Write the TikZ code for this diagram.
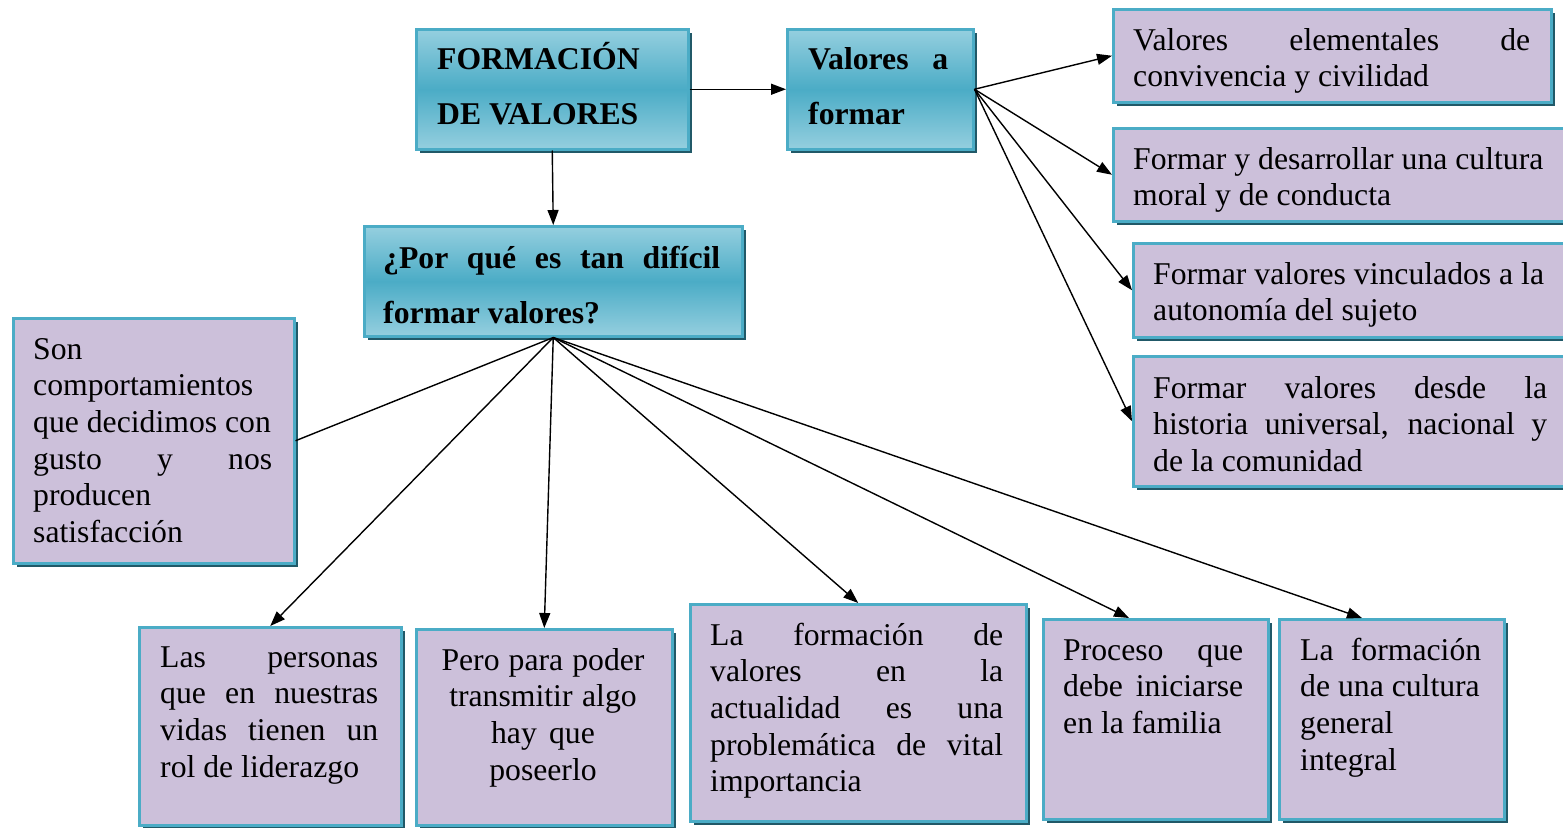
\documentclass[tikz,border=0pt]{standalone}
\usepackage{fontspec}
\setmainfont{Liberation Serif}
\usetikzlibrary{arrows.meta,shadows,calc}
\definecolor{lav}{HTML}{CCC0DA}
\definecolor{tealmid}{HTML}{4BACC6}
\definecolor{tealdk}{HTML}{215968}
\definecolor{teallt}{HTML}{95CFDF}
\newcommand{\jl}[2]{\makebox[#1pt][s]{#2}}
\newcommand{\rs}{\spaceskip=0pt\xspaceskip=0pt\hyphenpenalty=10000\relax}
\begin{document}
\begin{tikzpicture}[x=1pt,y=-1pt,
  boxbase/.style={draw=tealmid, line width=2.5pt, rectangle, inner sep=0pt, anchor=north west,
    drop shadow={shadow xshift=4pt, shadow yshift=-4pt, opacity=1, fill=tealdk}},
  pbox/.style={boxbase, fill=lav},
  bbox/.style={boxbase, top color=teallt, bottom color=teallt, middle color=tealmid},
  txt/.style={inner sep=0pt, anchor=north west, align=left, yshift=-2pt, font=\fontsize{31.7}{36.6}\selectfont},
  btxt/.style={inner sep=0pt, anchor=north west, align=left, yshift=-1.5pt, font=\fontsize{31.7}{55}\selectfont\bfseries},
  arr/.style={-{Triangle[length=15pt,width=11pt]}, line width=1.4pt},
  lin/.style={line width=1.4pt}]
\clip (0,0) rectangle (1563,827);

% blue boxes
\node[bbox, minimum width=272pt, minimum height=120pt] (F) at (415,28) {};
\node[bbox, minimum width=186pt, minimum height=120pt] (V) at (786,28) {};
\node[bbox, minimum width=378pt, minimum height=110pt] (P) at (363,225) {};
% lavender boxes right
\node[pbox, minimum width=438pt, minimum height=93pt] (R1) at (1112,8) {};
\node[pbox, minimum width=470pt, minimum height=93pt] (R2) at (1112,127) {};
\node[pbox, minimum width=450pt, minimum height=94pt] (R3) at (1132,242) {};
\node[pbox, minimum width=450pt, minimum height=130pt] (R4) at (1132,355) {};
% left and bottom
\node[pbox, minimum width=281pt, minimum height=245pt] (S) at (12,317) {};
\node[pbox, minimum width=262pt, minimum height=198pt] (L1) at (138,626) {};
\node[pbox, minimum width=256pt, minimum height=196pt] (L2) at (415,628) {};
\node[pbox, minimum width=336pt, minimum height=217pt] (L3) at (689,603) {};
\node[pbox, minimum width=225pt, minimum height=200pt] (L4) at (1042,618) {};
\node[pbox, minimum width=225pt, minimum height=200pt] (L5) at (1278,618) {};

% texts
\node[btxt, text width=240pt] (tF) at (437,29.5) {\rs\strut FORMACIÓN\\DE VALORES};
\node[btxt, text width=140pt] (tV) at (808,29.5) {\rs\strut\jl{140}{Valores a}\\formar};
\node[btxt, text width=337pt] (tP) at (383,228.5) {\rs\strut\jl{337}{¿Por qué es tan difícil}\\formar valores?};

\node[txt, text width=397pt] (tR1) at (1133,22.4) {\rs\strut\jl{397}{Valores elementales de}\\convivencia y civilidad};
\node[txt, text width=425pt] (tR2) at (1133,141.4) {\rs\strut Formar y desarrollar una cultura\\moral y de conducta};
\node[txt, text width=405pt] (tR3) at (1153,256.4) {\rs\strut Formar valores vinculados a la\\autonomía del sujeto};
\node[txt, text width=394pt] (tR4) at (1153,370.4) {\rs\strut\jl{394}{Formar valores desde la}\\\jl{394}{historia universal, nacional y}\\de la comunidad};

\node[txt, text width=245pt] (tS) at (33,331.4) {\rs\strut Son\\comportamientos\\que decidimos con\\\jl{239}{gusto y nos}\\producen\\satisfacción};
\node[txt, text width=218pt] (tL1) at (160,639.4) {\rs\strut\jl{218}{Las personas}\\\jl{218}{que en nuestras}\\\jl{218}{vidas tienen un}\\rol de liderazgo};
\node[txt, text width=240pt, anchor=north, align=center] (tL2) at (543,642.4) {\rs\strut Pero para poder\\transmitir algo\\hay que\\poseerlo};
\node[txt, text width=293pt] (tL3) at (710,617.4) {\rs\strut\jl{293}{La formación de}\\\jl{293}{valores en la}\\\jl{293}{actualidad es una}\\\jl{293}{problemática de vital}\\importancia};
\node[txt, text width=180pt] (tL4) at (1063,632.4) {\rs\strut\jl{180}{Proceso que}\\\jl{180}{debe iniciarse}\\en la familia};
\node[txt, text width=185pt] (tL5) at (1300,632.4) {\rs\strut\jl{181}{La formación}\\de una cultura\\general\\integral};

% connectors
\draw[arr] (F.east) -- (V.west);
\draw[arr] (F.south) -- (P.north);
\draw[arr] (V.east) -- (R1.west);
\draw[arr] (V.east) -- (R2.west);
\draw[arr] (V.east) -- (R3.west);
\draw[arr] (V.east) -- (R4.west);
\draw[lin] (P.south) -- (S.east);
\draw[arr] (P.south) -- (L1.north);
\draw[arr] (P.south) -- (L2.north);
\draw[arr] (P.south) -- (L3.north);
\coordinate (L4in) at ($(L4.north west)+(87,0)$);
\coordinate (L5in) at ($(L5.north west)+(84,0)$);
\draw[arr] (P.south) -- (L4in);
\draw[arr] (P.south) -- (L5in);
\end{tikzpicture}
\end{document}
